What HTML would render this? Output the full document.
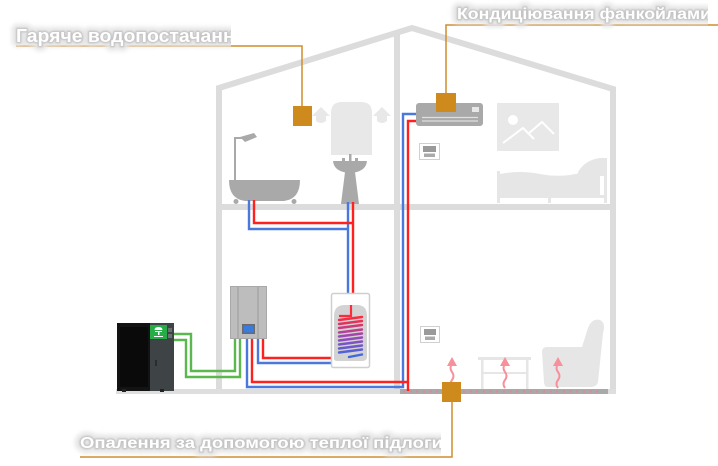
<!DOCTYPE html>
<html><head><meta charset="utf-8"><style>
html,body{margin:0;padding:0;background:#fff;width:718px;height:466px;overflow:hidden}
svg{display:block}
.lbl{font-family:"Liberation Sans","DejaVu Sans",sans-serif;font-weight:bold}
</style></head><body>
<svg width="718" height="466" viewBox="0 0 718 466" xmlns="http://www.w3.org/2000/svg">
<defs>
<filter id="blur3" x="-10%" y="-60%" width="120%" height="220%"><feGaussianBlur stdDeviation="2.2"/></filter>
<filter id="blur1" x="-10%" y="-60%" width="120%" height="220%"><feGaussianBlur stdDeviation="0.7"/></filter>
<clipPath id="c1"><rect x="0" y="0" width="231" height="60"/></clipPath>
<clipPath id="c2"><rect x="440" y="0" width="268" height="30"/></clipPath>
<clipPath id="c3"><rect x="60" y="420" width="381" height="40"/></clipPath>
<linearGradient id="coil" x1="0" y1="0" x2="0" y2="1">
<stop offset="0" stop-color="#ff2a3a"/><stop offset="0.5" stop-color="#9a48b8"/><stop offset="1" stop-color="#3a6ae0"/>
</linearGradient>
</defs>

<!-- House structure -->
<g stroke="#dcdcdc" stroke-width="6" fill="none" stroke-linejoin="miter">
<polyline points="219,392 219,88 412,28 613,89 613,392"/>
<line x1="397" y1="33" x2="397" y2="392"/>
<line x1="216" y1="207" x2="616" y2="207"/>
</g>
<rect x="116" y="389" width="500" height="5" fill="#dedede"/>
<rect x="400" y="389" width="208" height="5" fill="#a9a9a9"/>
<g fill="#f27d92">
<circle cx="404" cy="391.5" r="1.1"/><circle cx="411" cy="391.5" r="1.1"/><circle cx="417" cy="391.5" r="1.1"/><circle cx="424" cy="391.5" r="1.1"/><circle cx="431" cy="391.5" r="1.1"/><circle cx="437" cy="391.5" r="1.1"/><circle cx="464" cy="391.5" r="1.1"/><circle cx="471" cy="391.5" r="1.1"/><circle cx="477" cy="391.5" r="1.1"/><circle cx="484" cy="391.5" r="1.1"/><circle cx="491" cy="391.5" r="1.1"/><circle cx="497" cy="391.5" r="1.1"/><circle cx="504" cy="391.5" r="1.1"/><circle cx="511" cy="391.5" r="1.1"/><circle cx="517" cy="391.5" r="1.1"/><circle cx="524" cy="391.5" r="1.1"/><circle cx="531" cy="391.5" r="1.1"/><circle cx="537" cy="391.5" r="1.1"/><circle cx="544" cy="391.5" r="1.1"/><circle cx="551" cy="391.5" r="1.1"/><circle cx="557" cy="391.5" r="1.1"/><circle cx="564" cy="391.5" r="1.1"/><circle cx="571" cy="391.5" r="1.1"/><circle cx="577" cy="391.5" r="1.1"/><circle cx="584" cy="391.5" r="1.1"/><circle cx="591" cy="391.5" r="1.1"/><circle cx="597" cy="391.5" r="1.1"/>
</g>

<!-- Water heater (light) + arrows -->
<path d="M331,155 V113 Q331,102 342,102 H361 Q372,102 372,113 V155 Z" fill="#e8e8e8"/>
<path d="M321,107 L330,116 H326 V121 Q321,125 316,121 V116 H312 Z" fill="#e8e8e8"/>
<path d="M382,107 L391,116 H387 V121 Q382,125 377,121 V116 H373 Z" fill="#e8e8e8"/>

<!-- Bathtub & shower -->
<g fill="#a9a9a9">
<path d="M229,180 H300 Q300,199 284,201 H245 Q229,199 229,180 Z"/>
<circle cx="236" cy="201.5" r="2.5"/><circle cx="294" cy="201.5" r="2.5"/>
<polygon points="240,137 254,133 257,137 245,142"/>
</g>
<polyline points="235,180 235,138 242,138" fill="none" stroke="#a9a9a9" stroke-width="2"/>

<!-- Sink -->
<g fill="#a9a9a9">
<path d="M333,161 H367 Q366,172 350,173 Q334,172 333,161 Z"/>
<polygon points="345,172 355,172 359,204 341,204"/>
<rect x="349" y="154" width="2.5" height="8"/>
<rect x="342" y="158" width="3" height="3"/><rect x="355" y="158" width="3" height="3"/>
</g>

<!-- AC unit -->
<rect x="416" y="103" width="67" height="23" rx="3" fill="#a9a9a9"/>
<line x1="422" y1="117.5" x2="478" y2="117.5" stroke="#e0e0e0" stroke-width="1.2"/>
<line x1="422" y1="121" x2="478" y2="121" stroke="#e0e0e0" stroke-width="1.2"/>
<rect x="472" y="107" width="7" height="5" fill="#e8e8e8"/>

<!-- Picture -->
<rect x="497" y="103" width="62" height="48" fill="#e8e8e8"/>
<circle cx="513" cy="120" r="5" fill="#fff"/>
<polyline points="503,143 523,128 534,139" fill="none" stroke="#fff" stroke-width="2"/>
<polyline points="528,134 542,122 554,134" fill="none" stroke="#fff" stroke-width="2"/>

<!-- Thermostats -->
<g>
<rect x="419.5" y="143.5" width="20" height="16" fill="#fff" stroke="#d0d0d0"/>
<rect x="423" y="146" width="13" height="6" fill="#9a9a9a"/>
<rect x="424" y="153.5" width="11" height="3.5" fill="#aaa"/>
<rect x="420.5" y="326.5" width="19" height="16" fill="#fff" stroke="#d0d0d0"/>
<rect x="424" y="329" width="12" height="6" fill="#9a9a9a"/>
<rect x="425" y="336.5" width="10" height="3.5" fill="#aaa"/>
</g>

<!-- Bed -->
<g fill="#e6e6e6">
<rect x="497" y="171" width="3" height="32"/>
<path d="M500,174 Q520,170 540,174 T580,173 L600,171 V196 H500 Z"/>
<path d="M578,172 Q585,160 600,158 H607 V203 H604 V176 H578 Z"/>
<rect x="500" y="195" width="104" height="3"/>
<rect x="548" y="198" width="3" height="5"/>
</g>

<!-- Table & armchair -->
<g fill="#e6e6e6">
<rect x="478" y="357" width="53" height="3"/>
<rect x="481" y="360" width="2.5" height="29"/>
<rect x="526" y="360" width="2.5" height="29"/>
<rect x="481" y="372" width="47" height="2"/>
<path d="M542,352 Q542,347 547,347 H582 L588,328 Q592,318 600,320 Q606,323 603,333 L598,382 Q597,387 590,387 H548 Q544,387 544,382 Z"/>
</g>

<!-- Heat arrows -->
<g stroke="#f7909a" stroke-width="2" fill="none">
<path d="M452,364 q-3,4 0,8 q3,4 0,8 q-3,4 0,8"/>
<path d="M505,364 q-3,4 0,8 q3,4 0,8 q-3,4 0,8"/>
<path d="M558,364 q-3,4 0,8 q3,4 0,8 q-3,4 0,8"/>
</g>
<g fill="#f7909a">
<polygon points="447,366 452,357 457,366"/>
<polygon points="500,366 505,357 510,366"/>
<polygon points="553,366 558,357 563,366"/>
</g>

<!-- Pipes -->
<g fill="none" stroke-width="2.4" stroke-linejoin="miter">
<path d="M249,200 V229 H348" stroke="#4a78dc"/>
<path d="M348,202 V293" stroke="#4a78dc"/>
<path d="M254,200 V223 H353" stroke="#ff2020"/>
<path d="M353,202 V293" stroke="#ff2020"/>
<path d="M258,339 V363 H331" stroke="#4a78dc"/>
<path d="M263,339 V358 H331" stroke="#ff2020"/>
<path d="M247,339 V387 H403 V114 H416" stroke="#4a78dc"/>
<path d="M252,339 V382 H408 V121 H416" stroke="#ff2020"/>
<path d="M408,382 V391" stroke="#ff2020"/>
<path d="M173,334 H191 V371 H235 V339" stroke="#5bb84f"/>
<path d="M173,340 H186 V377 H240 V339" stroke="#5bb84f"/>
</g>

<!-- Control unit -->
<rect x="230.5" y="286.5" width="36" height="52" fill="#bdbdbd" stroke="#a8a8a8"/>
<line x1="238" y1="287" x2="238" y2="338" stroke="#9a9a9a"/>
<line x1="258" y1="287" x2="258" y2="338" stroke="#9a9a9a"/>
<rect x="242" y="324" width="13" height="10" fill="#6a6a6a"/>
<rect x="243.5" y="325.5" width="10" height="7" fill="#3a7be0"/>

<!-- Tank -->
<rect x="331.5" y="293.5" width="38" height="74" rx="2" fill="#fff" stroke="#cfcfcf" stroke-width="1.5"/>
<path d="M334,359 V316 Q334,305 345,305 H357 Q367,305 367,316 V357 Q367,361 362,361 H338 Q334,361 334,359 Z" fill="#d3d3d3"/>
<path d="M351,305 V316 H339" fill="none" stroke="#ff2a3a" stroke-width="2.2"/>
<g stroke="url(#coil)" stroke-width="2.4" fill="none" stroke-linecap="round">
<path d="M339,320 L362,317 M339,324 L362,321 M339,328 L362,325 M339,332.5 L362,329.5 M339,336.5 L362,333.5 M339,340.5 L362,337.5 M339,344.5 L362,341.5 M339,348.5 L362,345.5 M339,352.5 L362,349.5 M349,357 L362,354.5"/>
</g>

<!-- Heat pump -->
<rect x="117" y="323" width="57" height="68" fill="#3e4346"/>
<rect x="117" y="323" width="33" height="68" fill="#121314"/>
<rect x="120" y="327" width="28" height="60" fill="#0a0a0a"/>
<rect x="150" y="325" width="17" height="14" fill="#27ad48"/>
<path d="M158.5,327 q-4,0 -4,3 h8 q0,-3 -4,-3 z M155,331 h7 v1 h-7 z M158,332 h1.5 v3 h-1.5 z M154,336 h9 v1 h-9z" fill="#fff"/>
<rect x="168" y="328" width="4" height="4" fill="#6b7073"/>
<rect x="168" y="334" width="4" height="4" fill="#6b7073"/>
<rect x="155" y="360" width="2" height="6" fill="#2a2d2f"/>
<rect x="122" y="389" width="4" height="3" fill="#222"/><rect x="160" y="389" width="4" height="3" fill="#222"/>

<!-- Callout markers -->
<g fill="none" stroke="#cf8d2c" stroke-width="1.5">
<polyline points="16,46 302,46 302,106"/>
<polyline points="718,25 446,25 446,93"/>
<polyline points="80,457 452,457 452,402"/>
</g>
<g fill="#cf8a1e">
<rect x="293" y="106" width="19" height="20"/>
<rect x="436" y="93" width="20" height="19"/>
<rect x="442" y="382" width="19" height="20"/>
</g>

<!-- Labels -->
<g class="lbl">
<g clip-path="url(#c1)">
<text x="16" y="42" font-size="18" textLength="230" lengthAdjust="spacingAndGlyphs" fill="none" stroke="#e6e6e6" stroke-width="10" stroke-linejoin="round" filter="url(#blur3)">Гаряче водопостачання</text>
<text x="16" y="42" font-size="18" textLength="230" lengthAdjust="spacingAndGlyphs" fill="none" stroke="#c4c4c4" stroke-width="2.5" stroke-linejoin="round" filter="url(#blur1)">Гаряче водопостачання</text>
<text x="16" y="42" font-size="18" textLength="230" lengthAdjust="spacingAndGlyphs" fill="#fff">Гаряче водопостачання</text>
</g>
<g clip-path="url(#c2)">
<text x="457" y="19" font-size="15.5" textLength="254" lengthAdjust="spacingAndGlyphs" fill="none" stroke="#e6e6e6" stroke-width="10" stroke-linejoin="round" filter="url(#blur3)">Кондиціювання фанкойлами</text>
<text x="457" y="19" font-size="15.5" textLength="254" lengthAdjust="spacingAndGlyphs" fill="none" stroke="#c4c4c4" stroke-width="2.5" stroke-linejoin="round" filter="url(#blur1)">Кондиціювання фанкойлами</text>
<text x="457" y="19" font-size="15.5" textLength="254" lengthAdjust="spacingAndGlyphs" fill="#fff">Кондиціювання фанкойлами</text>
</g>
<g clip-path="url(#c3)">
<text x="80" y="448" font-size="15.5" textLength="363" lengthAdjust="spacingAndGlyphs" fill="none" stroke="#e6e6e6" stroke-width="10" stroke-linejoin="round" filter="url(#blur3)">Опалення за допомогою теплої підлоги</text>
<text x="80" y="448" font-size="15.5" textLength="363" lengthAdjust="spacingAndGlyphs" fill="none" stroke="#c4c4c4" stroke-width="2.5" stroke-linejoin="round" filter="url(#blur1)">Опалення за допомогою теплої підлоги</text>
<text x="80" y="448" font-size="15.5" textLength="363" lengthAdjust="spacingAndGlyphs" fill="#fff">Опалення за допомогою теплої підлоги</text>
</g>
</g>
</svg>
</body></html>
